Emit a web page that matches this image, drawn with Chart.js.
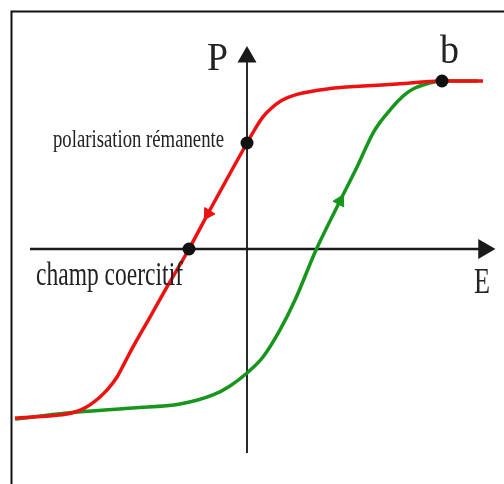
<!DOCTYPE html>
<html>
<head>
<meta charset="utf-8">
<script src="https://cdn.jsdelivr.net/npm/chart.js@4/dist/chart.umd.min.js"></script>
<style>
html,body{margin:0;padding:0;background:#fff;}
#wrap{position:absolute;left:0;top:0;width:504px;height:484px;}
</style>
</head>
<body>
<div id="wrap"><canvas id="c" width="504" height="484"></canvas></div>
<script>
// Descending branch (red): field E and polarisation P (P normalised to saturation)
const redE = [-2.32, -2.14, -1.80, -1.72, -1.64, -1.56, -1.47, -1.39, -1.30, -1.22, -1.14, -0.97, -0.80, -0.58, -0.36, -0.14, 0.00, 0.08, 0.16, 0.24, 0.33, 0.50, 0.83, 1.16, 1.50, 1.95, 2.36];
const redP = [-1.006, -1.000, -0.982, -0.970, -0.952, -0.923, -0.881, -0.833, -0.762, -0.673, -0.583, -0.405, -0.226, 0.000, 0.244, 0.482, 0.631, 0.714, 0.786, 0.836, 0.878, 0.920, 0.955, 0.970, 0.982, 1.000, 1.000];
// Ascending branch (green)
const greenE = [-2.32, -1.80, -1.14, -0.67, -0.34, -0.17, 0.00, 0.16, 0.33, 0.48, 0.69, 0.91, 1.10, 1.26, 1.34, 1.43, 1.51, 1.60, 1.68, 1.76, 1.95, 2.31];
const greenP = [-1.012, -0.976, -0.946, -0.923, -0.869, -0.815, -0.738, -0.643, -0.482, -0.304, -0.006, 0.262, 0.488, 0.690, 0.762, 0.827, 0.881, 0.929, 0.958, 0.976, 1.000, 1.000];
// Marked points: remanent polarisation, coercive field, saturation point b
const markE = [0.00, -0.58, 1.95];
const markP = [0.631, 0.000, 1.000];
// Direction arrows on the branches
const redArrowE = [-0.39], redArrowP = [0.21];
const greenArrowE = [0.93], greenArrowP = [0.286];
// Axes (E axis and P axis extents)
const eAxisE = [-2.17, 2.37], eAxisP = [0, 0];
const pAxisE = [0, 0], pAxisP = [-1.214, 1.143];
// Text labels
const labelTexts = ['P', 'b', 'E', 'polarisation rémanente', 'champ coercitif'];
const labelE = [-0.40, 1.93, 2.27, -1.94, -2.11];
const labelP = [1.065, 1.107, -0.262, 0.607, -0.214];
const labelW = [0.21, 0.19, 0.16, 1.71, 1.47];

const pts = (xs, ys) => xs.map((x, i) => ({x: x, y: ys[i]}));

const framePlugin = {
  id: 'frame',
  beforeDraw(chart) {
    const ctx = chart.ctx;
    ctx.save();
    ctx.fillStyle = '#fff';
    ctx.fillRect(0, 0, chart.width, chart.height);
    ctx.strokeStyle = '#111';
    ctx.lineWidth = 2;
    ctx.beginPath();
    ctx.moveTo(11.5, chart.height);
    ctx.lineTo(11.5, 11.5);
    ctx.lineTo(chart.width, 11.5);
    ctx.stroke();
    ctx.restore();
  }
};

const labelPlugin = {
  id: 'labels',
  afterDatasetsDraw(chart, args, opts) {
    const ctx = chart.ctx;
    const xs = chart.scales.x, ys = chart.scales.y;
    ctx.save();
    ctx.fillStyle = '#222';
    ctx.textBaseline = 'alphabetic';
    ctx.textAlign = 'left';
    labelTexts.forEach((t, i) => {
      const size = opts.sizes[i];
      ctx.font = size + 'px "Liberation Serif", "DejaVu Serif", serif';
      const px = xs.getPixelForValue(labelE[i]);
      const py = ys.getPixelForValue(labelP[i]);
      const targetW = xs.getPixelForValue(labelE[i] + labelW[i]) - px;
      const natW = ctx.measureText(t).width;
      ctx.save();
      ctx.translate(px, py);
      ctx.scale(targetW / natW, 1);
      ctx.fillText(t, 0, 0);
      ctx.restore();
    });
    ctx.restore();
  }
};

new Chart(document.getElementById('c'), {
  type: 'scatter',
  data: {
    datasets: [
      { data: pts(markE, markP), pointRadius: 6.5, pointBackgroundColor: '#111', pointBorderColor: '#111', pointBorderWidth: 0, showLine: false, order: 0 },
      { data: pts(redArrowE, redArrowP), pointStyle: 'triangle', rotation: 212, pointRadius: 7, pointBackgroundColor: '#ee1111', pointBorderColor: '#ee1111', showLine: false, order: 1 },
      { data: pts(greenArrowE, greenArrowP), pointStyle: 'triangle', rotation: 28, pointRadius: 7, pointBackgroundColor: '#16961c', pointBorderColor: '#16961c', showLine: false, order: 1 },
      { data: pts(redE, redP), showLine: true, borderColor: '#ee1111', borderWidth: 3.5, pointRadius: 0, cubicInterpolationMode: 'monotone', order: 2 },
      { data: pts(greenE, greenP), showLine: true, borderColor: '#16961c', borderWidth: 3.5, pointRadius: 0, cubicInterpolationMode: 'monotone', order: 3 },
      { data: pts(eAxisE, eAxisP), showLine: true, borderColor: '#1a1a1a', borderWidth: 2.5, pointRadius: [0, 9], pointStyle: 'triangle', rotation: 90, pointBackgroundColor: '#1a1a1a', pointBorderColor: '#1a1a1a', order: 4 },
      { data: pts(pAxisE, pAxisP), showLine: true, borderColor: '#2a2a2a', borderWidth: 2, pointRadius: [0, 9], pointStyle: 'triangle', rotation: 0, pointBackgroundColor: '#1a1a1a', pointBorderColor: '#1a1a1a', order: 4 }
    ]
  },
  options: {
    responsive: false,
    devicePixelRatio: 1,
    animation: false,
    layout: { padding: 0, autoPadding: false },
    plugins: {
      legend: { display: false },
      tooltip: { enabled: false },
      labels: { sizes: [40, 40, 35, 25, 33] }
    },
    scales: {
      x: { type: 'linear', display: false, min: -2.47, max: 2.57 },
      y: { type: 'linear', display: false, min: -1.39881, max: 1.48214 }
    }
  },
  plugins: [framePlugin, labelPlugin]
});
</script>
</body>
</html>
